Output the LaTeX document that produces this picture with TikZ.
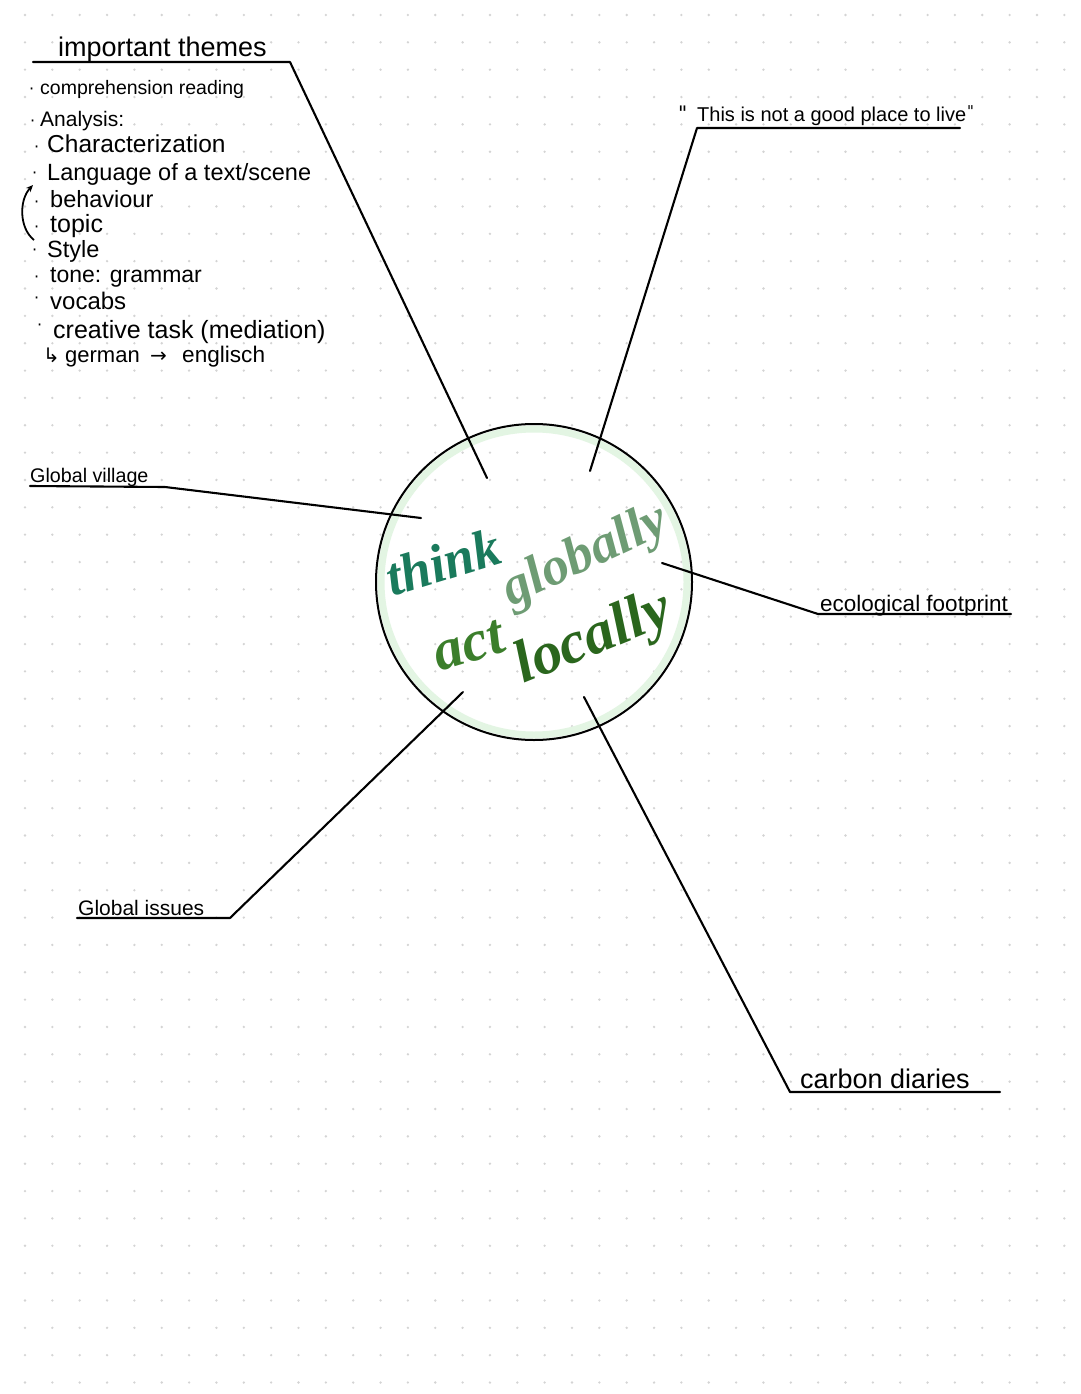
\documentclass[tikz,border=0pt]{standalone}
\usepackage{fontspec}
\setmainfont{Liberation Sans}
\newfontfamily\calli{Liberation Serif}
\newfontfamily\symf{DejaVu Sans}
\usetikzlibrary{arrows.meta}
\definecolor{dotc}{HTML}{D4D4D4}
\definecolor{glow}{HTML}{E3F5E3}
\definecolor{cthink}{HTML}{1A7A5C}
\definecolor{cglob}{HTML}{6E9C74}
\definecolor{cact}{HTML}{3B7E2B}
\definecolor{cloc}{HTML}{2A661D}
\newcommand\myfs[1]{\fontsize{#1}{#1}\selectfont}
\tikzset{
  lbl/.style={anchor=base west, inner sep=0pt, text=black},
  bul/.style={anchor=base west, inner sep=0pt, text=black, font=\symf\myfs{16}},
  ink/.style={line width=2.1pt, black, line cap=round, line join=round},
  cal/.style={inner sep=0pt, font=\calli\bfseries\itshape},
}
\begin{document}
\begin{tikzpicture}[x=1pt,y=-1pt]
\useasboundingbox (0,0) rectangle (1080,1394);
\fill[white] (0,0) rectangle (1080,1394);
% dot grid
\foreach \i in {0,...,38}{
  \foreach \j in {0,...,50}{
    \fill[dotc] (25+27.35*\i, 15+27.35*\j) circle (1.3);
  }
}
% hub circle
\draw[glow, line width=7pt] (534,582) circle (153);
\node[circle, draw=black, line width=2pt, minimum size=316pt, inner sep=0pt] (hub) at (534,582) {};

% central words
\node[cal, text=cthink, font=\calli\bfseries\itshape\myfs{54}, rotate=17] (think) at (443,562) {think};
\node[cal, text=cglob, font=\calli\bfseries\itshape\myfs{54}, rotate=25] (glob) at (586,557) {globally};
\node[cal, text=cact, font=\calli\bfseries\itshape\myfs{58}, rotate=17] (act) at (469,646) {act};
\node[cal, text=cloc, font=\calli\bfseries\itshape\myfs{60}, rotate=22] (loc) at (594,640) {locally};

% connector end points (inside the circle)
\coordinate (e1) at (487,478);
\coordinate (e2) at (590,471);
\coordinate (e3) at (421,518);
\coordinate (e4) at (662,563);
\coordinate (e5) at (463,692);
\coordinate (e6) at (584,697);

% important themes
\node[lbl, font=\myfs{27}] (themes) at (58,57) {important themes};
\coordinate (u1a) at (33,62);
\coordinate (u1b) at (290,62);
\draw[ink] (u1a) -- (u1b) -- (e1);

% list
\node[bul] (d1) at (29,95) {·};
\node[lbl, font=\myfs{19.5}] (l1) at (40,95) {comprehension reading};
\node[bul] (d2) at (30,127) {·};
\node[lbl, font=\myfs{21}] (l2) at (40,127) {Analysis:};
\node[bul] (d3) at (34,153) {·};
\node[lbl, font=\myfs{24.5}] (l3) at (47,153) {Characterization};
\node[bul] (d4) at (32,178) {·};
\node[lbl, font=\myfs{23.5}] (l4) at (47,180) {Language of a text/scene};
\node[bul] (d5) at (34,207) {·};
\node[lbl, font=\myfs{23.5}] (l5) at (50,207) {behaviour};
\node[bul] (d6) at (34,232) {·};
\node[lbl, font=\myfs{25}] (l6) at (50,232) {topic};
\node[bul] (d7) at (32,255) {·};
\node[lbl, font=\myfs{23.5}] (l7) at (47,257) {Style};
\node[bul] (d8) at (34,282) {·};
\node[lbl, font=\myfs{23}] (l8) at (50,282) {tone: grammar};
\node[bul] (d9) at (34,303) {·};
\node[lbl, font=\myfs{24}] (l9) at (50,309) {vocabs};
\node[bul] (d10) at (37,330) {·};
\node[lbl, font=\myfs{25}] (l10) at (53,338) {creative task (mediation)};
\node[lbl, font=\symf\myfs{20}] (l11a) at (43,362) {↳};
\node[lbl, font=\myfs{22}] (l11b) at (65,362) {german};
\node[lbl, font=\symf\myfs{20}] (l11c) at (150,362) {→};
\node[lbl, font=\myfs{22.6}] (l11d) at (182,362) {englisch};
% curved arrow style -> language
\coordinate (ar1) at (34,240);
\coordinate (ar2) at (33,185);
\draw[line width=1.8pt, -{Stealth[length=7pt,width=6pt]}] (ar1) .. controls (19,228) and (19,200) .. (ar2);

% quote
\node[lbl, font=\symf\myfs{20}] (q0) at (678,121) {"};
\node[lbl, font=\myfs{20}] (quote) at (697,122) {This is not a good place to live};
\node[lbl, font=\symf\myfs{15}] (q1) at (967,117) {"};
\coordinate (u2a) at (697,128);
\coordinate (u2b) at (960,128);
\draw[ink] (u2b) -- (u2a) -- (e2);

% Global village
\node[lbl, font=\myfs{19.7}] (gv) at (30,482) {Global village};
\coordinate (u3a) at (30,486);
\coordinate (u3b) at (165,487);
\draw[ink] (u3a) -- (u3b) -- (e3);

% ecological footprint
\node[lbl, font=\myfs{22.5}] (eco) at (820,611) {ecological footprint};
\coordinate (u4a) at (818,614);
\coordinate (u4b) at (1011,614);
\draw[ink] (u4b) -- (u4a) -- (e4);

% Global issues
\node[lbl, font=\myfs{21}] (gi) at (78,915) {Global issues};
\coordinate (u5a) at (77,918);
\coordinate (u5b) at (230,918);
\draw[ink] (u5a) -- (u5b) -- (e5);

% carbon diaries
\node[lbl, font=\myfs{27}] (cd) at (800,1088) {carbon diaries};
\coordinate (u6a) at (790,1092);
\coordinate (u6b) at (1000,1092);
\draw[ink] (u6b) -- (u6a) -- (e6);
\end{tikzpicture}
\end{document}
